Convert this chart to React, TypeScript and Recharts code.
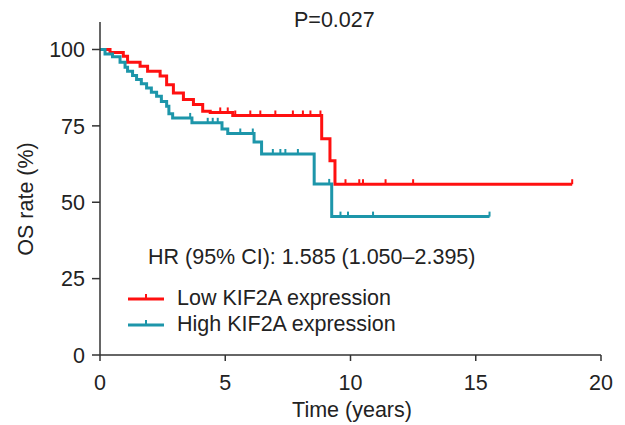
import { ComposedChart, Line, Scatter, XAxis, YAxis } from 'recharts'

// Kaplan-Meier steps: time (years) and survival (%) at each step
const lowTime = [0, 0.4, 0.93, 1.1, 1.6, 1.9, 2.4, 2.66, 2.93, 3.33, 3.73, 4.1, 4.4, 5.3, 8.85, 9.18, 9.38, 18.85]
const lowSurv = [100, 99, 97.8, 95.8, 94.5, 92.9, 91.3, 88.5, 85.8, 83.6, 82, 79.8, 79.4, 78.4, 70.8, 63.6, 55.9, 55.9]

const highTime = [0, 0.2, 0.5, 0.8, 1.0, 1.1, 1.3, 1.46, 1.65, 1.86, 2.05, 2.26, 2.45, 2.66, 2.75, 2.9, 3.67, 4.87, 5.1, 6.15, 6.45, 8.55, 9.25, 15.55]
const highSurv = [100, 98.5, 97.6, 95.8, 94.2, 92.9, 91.5, 90.2, 88.8, 87.4, 86, 84.7, 83, 81.4, 79, 77.6, 76, 74, 72.5, 69.7, 65.8, 56, 45.3, 45.3]

// censored observations
const lowCensor = [4.8, 5.1, 5.4, 6.0, 6.4, 7.0, 7.7, 8.1, 8.4, 8.8, 9.8, 10.35, 10.5, 11.4, 12.5, 18.85]
const highCensor = [3.6, 4.3, 4.5, 4.7, 5.6, 6.1, 6.9, 7.2, 7.4, 7.9, 9.15, 9.6, 9.9, 10.9, 15.55]

const xTicks = [0, 5, 10, 15, 20]
const yTicks = [0, 25, 50, 75, 100]

const RED = '#ff1010'
const TEAL = '#1d96aa'
const AXIS = '#333333'
const FONT = '"Liberation Sans", Arial, sans-serif'
const FONT_SIZE = 21.5

const survivalAt = (times: number[], surv: number[], t: number) => {
  let v = surv[0]
  times.forEach((tt, i) => {
    if (tt <= t) v = surv[i]
  })
  return v
}

const lowRows = lowTime.map((t, i) => ({ t, s: lowSurv[i] }))
const highRows = highTime.map((t, i) => ({ t, s: highSurv[i] }))
const lowCensorRows = lowCensor.map((t) => ({ t, s: survivalAt(lowTime, lowSurv, t) }))
const highCensorRows = highCensor.map((t) => ({ t, s: survivalAt(highTime, highSurv, t) }))

const censorMark = (color: string) => (props: any) => {
  const { cx, cy } = props
  return <line x1={cx} x2={cx} y1={cy} y2={cy - 5} stroke={color} strokeWidth={2} />
}

const textStyle: React.CSSProperties = {
  position: 'absolute',
  fontFamily: FONT,
  fontSize: FONT_SIZE,
  color: '#222',
  whiteSpace: 'nowrap',
  lineHeight: 1,
}

function LegendRow({ color, label, top }: { color: string; label: string; top: number }) {
  return (
    <div style={{ position: 'absolute', left: 128, top: top - 12, height: 24, display: 'flex', alignItems: 'center' }}>
      <svg width={36} height={20} style={{ marginRight: 13 }}>
        <line x1={0} x2={36} y1={10} y2={10} stroke={color} strokeWidth={3} />
        <line x1={18} x2={18} y1={10} y2={5} stroke={color} strokeWidth={2} />
      </svg>
      <span style={{ fontFamily: FONT, fontSize: FONT_SIZE, color: '#222', lineHeight: 1 }}>{label}</span>
    </div>
  )
}

export default function App() {
  return (
    <div style={{ position: 'absolute', left: 0, top: 0, width: 625, height: 425, background: '#fff' }}>
      <ComposedChart
        width={625}
        height={425}
        margin={{ top: 22, right: 24, bottom: 40, left: 40 }}
      >
        <XAxis
          dataKey="t"
          type="number"
          domain={[0, 20]}
          ticks={xTicks}
          height={30}
          tickSize={6}
          tickMargin={14}
          stroke={AXIS}
          strokeWidth={1.5}
          tick={{ fill: '#222', fontSize: FONT_SIZE, fontFamily: FONT }}
          allowDuplicatedCategory={false}
        />
        <YAxis
          type="number"
          domain={[0, 109]}
          ticks={yTicks}
          width={60}
          tickSize={8}
          tickMargin={7}
          stroke={AXIS}
          strokeWidth={1.5}
          tick={{ fill: '#222', fontSize: FONT_SIZE, fontFamily: FONT }}
        />
        <Line
          data={lowRows}
          dataKey="s"
          type="stepAfter"
          stroke={RED}
          strokeWidth={3}
          dot={false}
          isAnimationActive={false}
        />
        <Line
          data={highRows}
          dataKey="s"
          type="stepAfter"
          stroke={TEAL}
          strokeWidth={3}
          dot={false}
          isAnimationActive={false}
        />
        <Scatter data={lowCensorRows} dataKey="s" shape={censorMark(RED)} isAnimationActive={false} />
        <Scatter data={highCensorRows} dataKey="s" shape={censorMark(TEAL)} isAnimationActive={false} />
      </ComposedChart>

      <div style={{ ...textStyle, left: 294, top: 10 }}>P=0.027</div>
      <div style={{ ...textStyle, left: 148, top: 247 }}>HR (95% CI): 1.585 (1.050–2.395)</div>
      <LegendRow color={RED} label="Low KIF2A expression" top={299} />
      <LegendRow color={TEAL} label="High KIF2A expression" top={325} />
      <div
        style={{
          ...textStyle,
          left: 27,
          top: 199,
          transform: 'translate(-50%, -50%) rotate(-90deg)',
        }}
      >
        OS rate (%)
      </div>
      <div style={{ ...textStyle, left: 352, top: 411, transform: 'translate(-50%, -50%)' }}>Time (years)</div>
    </div>
  )
}
